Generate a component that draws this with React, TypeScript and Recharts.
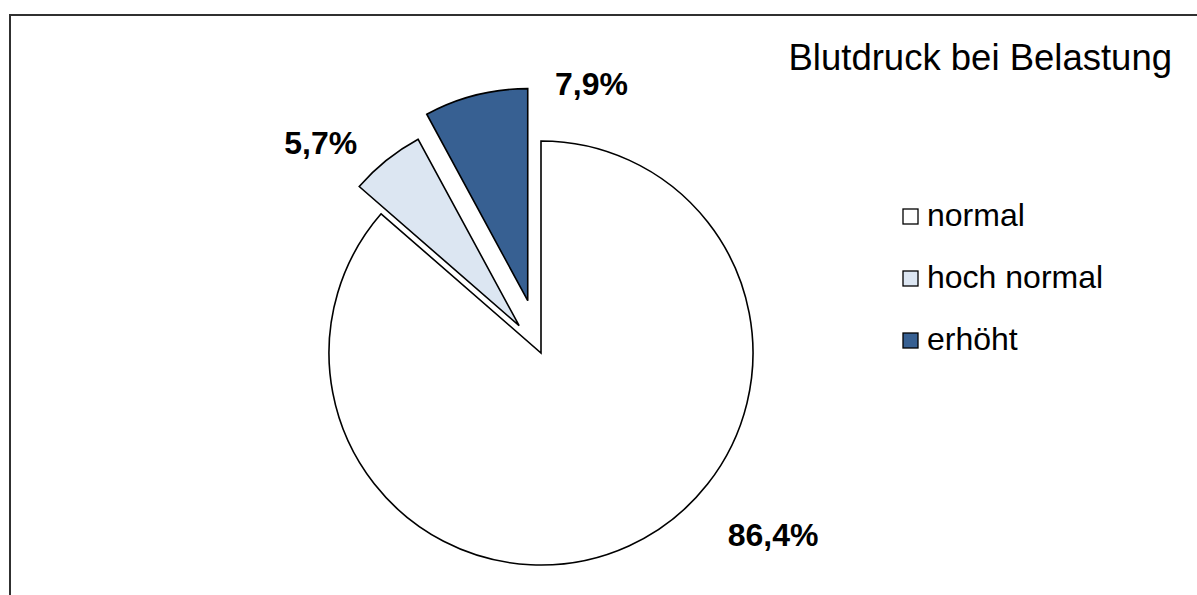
import React from "react";
import { PieChart, Pie, Cell, Legend } from "recharts";

const categories = ["normal", "hoch normal", "erhöht"];
const values = [86.4, 5.7, 7.9];
const colors = ["#FFFFFF", "#DCE6F2", "#376092"];
const explode = [0, 35, 54];
const labelPlacement = [
  { angle: -38.1, dist: 295 },
  { angle: 137.3, dist: 270 },
  { angle: 73.6, dist: 226 },
];
const title = "Blutdruck bei Belastung";

const W = 1197;
const H = 595;
const CX = 541;
const CY = 353;
const R = 212;
const FONT = "'Liberation Sans', Arial, sans-serif";

const data = categories.map((name, i) => ({ name, value: values[i] }));
const total = values.reduce((a, b) => a + b, 0);

const centers = values.map((v, i) => {
  const before = values.slice(0, i).reduce((a, b) => a + b, 0);
  const mid = 90 - 360 * ((before + v / 2) / total);
  const rad = (mid * Math.PI) / 180;
  return { x: CX + explode[i] * Math.cos(rad), y: CY - explode[i] * Math.sin(rad) };
});

const fmt = (v: number) => v.toFixed(1).replace(".", ",") + "%";

const makeLabel = (slice: number) => (props: any) => {
  if (props.index !== slice) return null;
  const c = centers[slice];
  const p = labelPlacement[slice];
  const rad = (p.angle * Math.PI) / 180;
  const x = c.x + p.dist * Math.cos(rad);
  const y = c.y - p.dist * Math.sin(rad) + 11;
  return (
    <text x={x} y={y} textAnchor="middle" fontFamily={FONT} fontWeight="bold" fontSize={32} fill="#000">
      {fmt(values[slice])}
    </text>
  );
};

const renderLegend = () => (
  <svg width={290} height={180} style={{ display: "block" }}>
    {categories.map((name, i) => (
      <g key={name}>
        <rect x={3} y={19 + 62 * i} width={15} height={15} fill={colors[i]} stroke="#000" strokeWidth={1.3} />
        <text x={27} y={36 + 62 * i} fontFamily={FONT} fontSize={32} fill="#000">
          {name}
        </text>
      </g>
    ))}
  </svg>
);

export default function App() {
  return (
    <div style={{ position: "absolute", left: 0, top: 0, width: W, height: H, background: "#fff", overflow: "hidden" }}>
      <div
        style={{
          position: "absolute",
          left: 9,
          top: 14,
          width: W + 20,
          height: H + 20,
          borderTop: "2px solid #303030",
          borderLeft: "2px solid #303030",
          boxSizing: "border-box",
        }}
      />
      <div style={{ position: "absolute", left: 0, top: 0 }}>
        <PieChart width={W} height={H} margin={{ top: 0, right: 0, bottom: 0, left: 0 }}>
          {categories.map((_, s) => (
            <Pie
              key={s}
              data={data}
              dataKey="value"
              nameKey="name"
              cx={centers[s].x}
              cy={centers[s].y}
              outerRadius={R}
              innerRadius={0}
              startAngle={90}
              endAngle={-270}
              isAnimationActive={false}
              labelLine={false}
              label={makeLabel(s)}
              legendType="none"
            >
              {data.map((d, i) => (
                <Cell
                  key={d.name}
                  fill={i === s ? colors[i] : "none"}
                  stroke={i === s ? "#000" : "none"}
                  strokeWidth={1.6}
                />
              ))}
            </Pie>
          ))}
          <text x={1172} y={70} textAnchor="end" fontFamily={FONT} fontSize={36.5} fill="#000">
            {title}
          </text>
          <Legend
            content={renderLegend}
            wrapperStyle={{ position: "absolute", left: 900, top: 190, width: 290, height: 180 }}
          />
        </PieChart>
      </div>
    </div>
  );
}
